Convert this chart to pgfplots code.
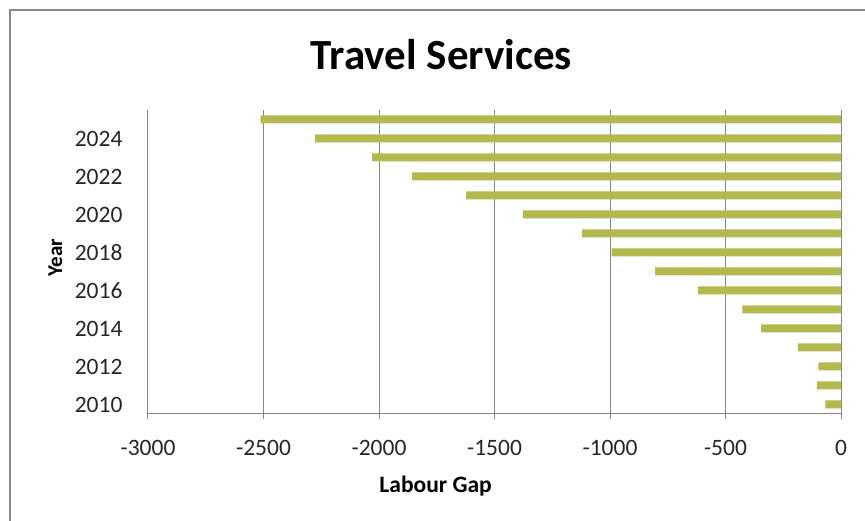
\documentclass[border=0pt]{standalone}
\usepackage{pgfplots}
\pgfplotsset{compat=1.18}
\usepackage{fontspec}
\setmainfont{Carlito}
\definecolor{barc}{RGB}{179,185,78}
\definecolor{gridc}{RGB}{135,135,135}
\begin{document}
\begin{tikzpicture}
\path[use as bounding box] (0pt,0pt) rectangle (865pt,521pt);
\draw[gridc,line width=2pt] (10pt,0pt) -- (10pt,511pt) -- (865pt,511pt);
\node[font=\fontsize{43}{49}\selectfont\bfseries] at (441.5pt,466pt) {Travel Services};
\begin{axis}[
  at={(148pt,107pt)}, anchor=south west,
  scale only axis, width=693pt, height=304pt,
  xbar, bar width=8pt,
  xmin=-3000, xmax=0, ymin=-0.5, ymax=15.5,
  xtick={-3000,-2500,-2000,-1500,-1000,-500,0},
  ytick={0,2,4,6,8,10,12,14},
  yticklabels={2010,2012,2014,2016,2018,2020,2022,2024},
  xmajorgrids, grid style={gridc, line width=1pt},
  axis line style={draw=none},
  major y tick style={draw=none},
  major x tick style={draw=gridc, line width=1pt},
  xtick pos=bottom, tick align=outside, major tick length=5pt,
  /pgf/number format/assume math mode=true,
  /pgf/number format/1000 sep={},
  ticklabel style={font=\fontsize{23.5}{27}\selectfont, text=black!85},
  xticklabel style={yshift=-18pt, /pgf/number format/1000 sep={}},
  yticklabel style={xshift=-17pt},
  xlabel={Labour Gap},
  xlabel style={font=\fontsize{23.5}{27}\selectfont\bfseries, at={(axis description cs:0.415,0)}, anchor=north, yshift=-58pt},
  ylabel={Year},
  ylabel style={font=\fontsize{21}{24}\selectfont\bfseries, at={(axis description cs:-0.1335,0.515)}, anchor=center},
]
\addplot[fill=barc, draw=none] coordinates {
(-68,0) (-104,1) (-98,2) (-187,3) (-346,4) (-427,5)
(-620,6) (-805,7) (-993,8) (-1121,9) (-1377,10) (-1623,11)
(-1857,12) (-2030,13) (-2277,14) (-2512,15)};
\draw[gridc, line width=1pt] (axis cs:-3000,-0.5) -- (axis cs:0,-0.5);
\draw[gridc, line width=1pt] (axis cs:0,-0.5) -- (axis cs:0,15.5);
\pgfplotsinvokeforeach{-0.5,0.5,...,15.5}{
  \draw[gridc, line width=1pt] (axis cs:0,#1) -- ++(-6pt,0);
}
\end{axis}
\end{tikzpicture}
\end{document}
